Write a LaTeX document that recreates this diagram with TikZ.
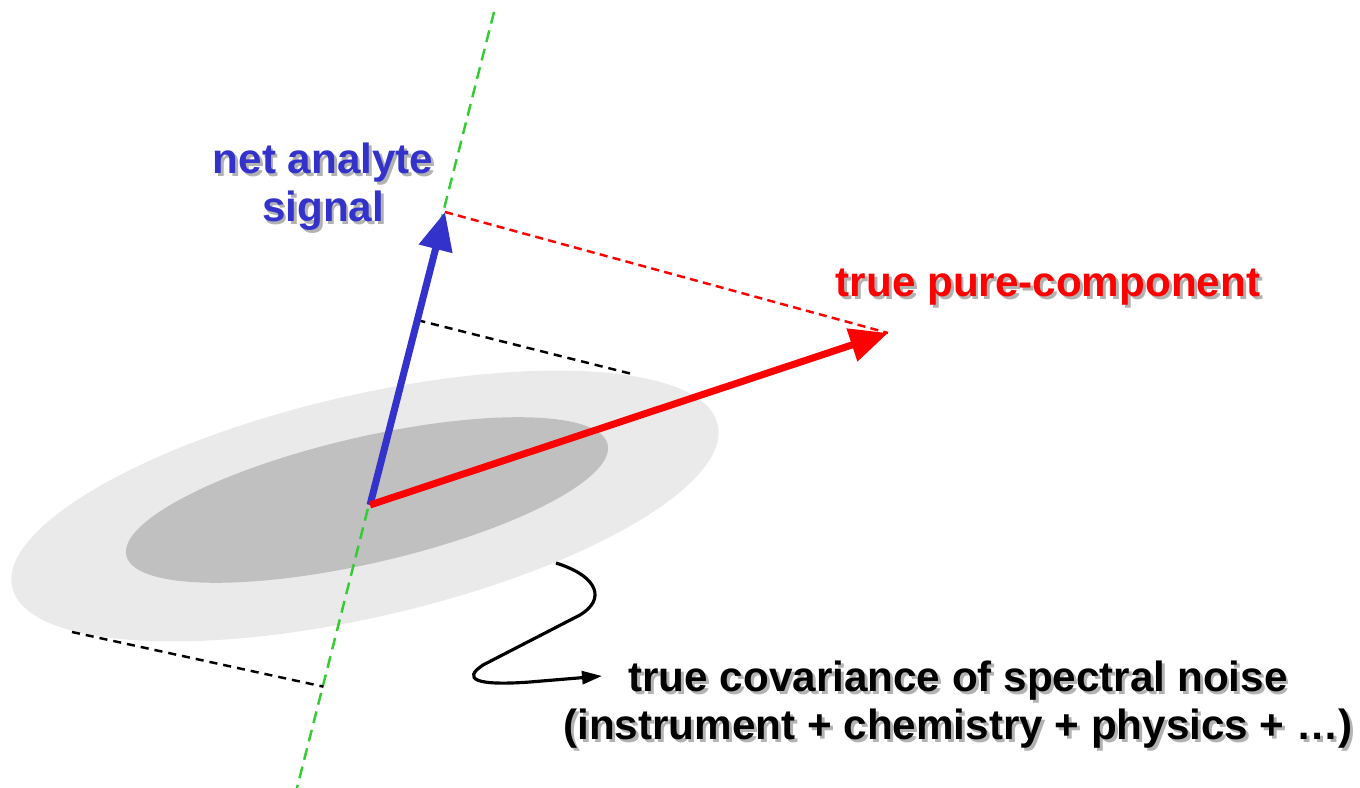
\documentclass[tikz,border=0pt]{standalone}
\usepackage{fontspec}
\setmainfont{Liberation Sans}
\usetikzlibrary{arrows.meta,calc}
\definecolor{nasblue}{RGB}{51,51,204}
\definecolor{axisgreen}{RGB}{51,204,51}
\definecolor{outergray}{RGB}{234,234,234}
\definecolor{innergray}{RGB}{192,192,192}
\newcommand\shd[1]{\leavevmode\rlap{\kern0.07em\raisebox{-0.07em}{\color{black!30}#1}}#1}
\begin{document}
\begin{tikzpicture}[x=0.01cm, y=-0.01cm,
      vec/.style={line width=2pt, -{Triangle[length=0.38cm, width=0.33cm]}},
      proj/.style={line width=0.7pt, dash pattern=on 2.3pt off 1.7pt},
      lbl/.style={font=\fontsize{12}{13.6}\selectfont\bfseries, align=center, inner sep=0pt}
    ]
    \useasboundingbox (0,0) rectangle (1360,788);
    \coordinate (o) at (370,505);
    \coordinate (nas) at (445,212);
    \coordinate (pc) at (888,333);
    \coordinate (gtop) at (494,12);
    \coordinate (gbot) at (297,788);
    \coordinate (t1) at (632,374);
    \coordinate (t2) at (72,632);
    \coordinate (w0) at (556,563);
    \coordinate (wtip) at (602,676);
    \fill[outergray, rotate around={13:(365,506)}] (365,506) ellipse [x radius=362, y radius=111];
    \fill[innergray, rotate around={13:(367,500)}] (367,500) ellipse [x radius=247, y radius=63];
    \draw[axisgreen, line width=0.7pt, dash pattern=on 3.4pt off 2pt] (gtop) -- (gbot);
    \draw[proj] ($(o)!0.631!(nas)$) -- (t1);
    \draw[proj] (t2) -- ($(o)!-0.62!(nas)$);
    \draw[red, line width=0.7pt, dash pattern=on 2.3pt off 1.5pt] (nas) -- (pc);
    \draw[vec, nasblue] (o) -- (nas);
    \draw[vec, red] (o) -- (pc);
    \draw[line width=0.9pt, -{Triangle[length=0.2cm, width=0.13cm]}] (w0) .. controls (600,577) and (605,600) .. (580,615)
      -- (483,665) .. controls (462,679) and (475,686) .. (530,682) -- (wtip);
    \node[lbl, text=nasblue] (naslbl) at (323,188) {\shd{net analyte}\\\shd{signal}};
    \node[lbl, text=red, anchor=base] (pclbl) at (1048,297) {\shd{true pure-component}};
    \node[lbl, anchor=north] (covlbl) at (958,660) {\shd{true covariance of spectral noise}\\\shd{(instrument + chemistry + physics + …)}};
  \end{tikzpicture}
\end{document}
